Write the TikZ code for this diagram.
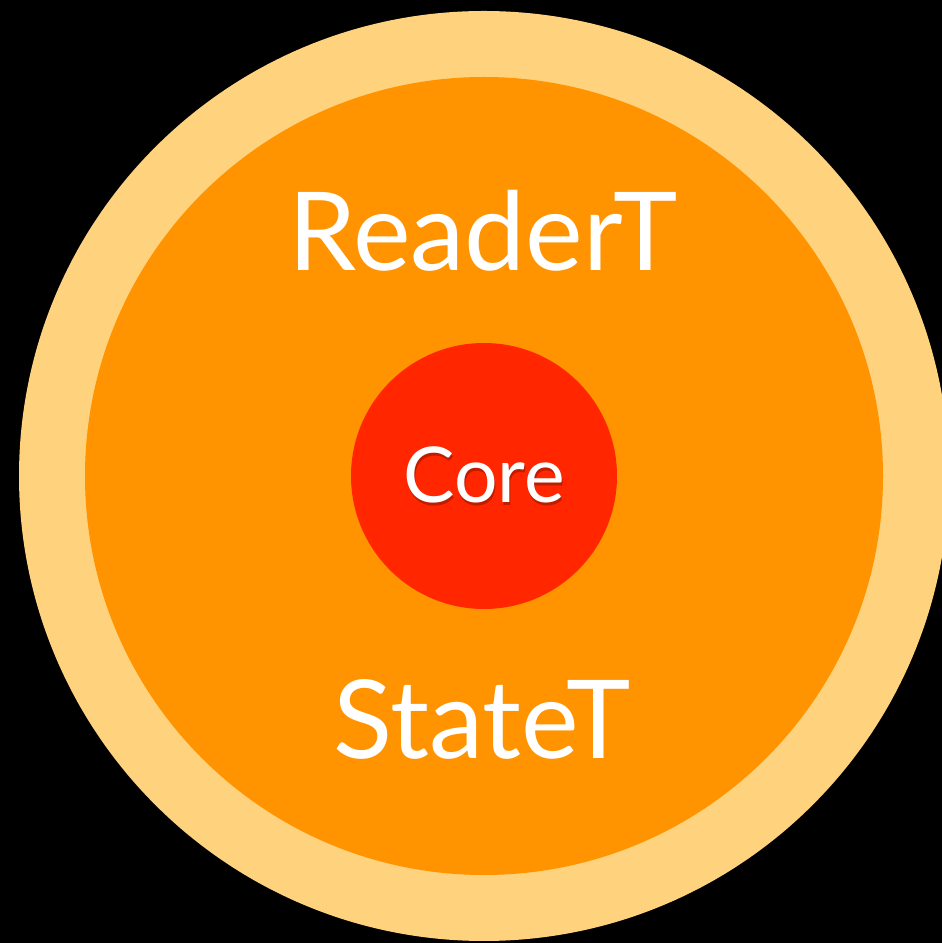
\documentclass[tikz,border=0pt]{standalone}
\usepackage{fontspec}
\setmainfont{Lato}
\definecolor{ringpale}{HTML}{FFD37E}
\definecolor{ringorange}{HTML}{FF9300}
\definecolor{corered}{HTML}{FF2600}
\begin{document}
\begin{tikzpicture}[x=1pt,y=1pt,
  disc/.style={circle, inner sep=0pt, draw=none},
  layertext/.style={text=white, font=\fontsize{109}{109}\selectfont, anchor=base, inner sep=0pt},
  coretext/.style={text=white, font=\fontsize{77}{77}\selectfont, anchor=base, inner sep=0pt}]
  % page and backdrop
  \useasboundingbox (0,0) rectangle (942,943);
  \clip (0,0) rectangle (942,943);
  \fill[black] (0,0) rectangle (942,943);
  % nested layers
  \node[disc, fill=ringpale, minimum size=930pt] (outer) at (484,467) {};
  \node[disc, fill=ringorange, minimum size=798pt] (middle) at (484,467) {};
  \node[disc, fill=corered, minimum size=266pt] (core) at (484,467) {};
  % labels
  \node[layertext] (reader) at (483,672) {ReaderT};
  \node[layertext] (state) at (482,184) {StateT};
  % soft drop shadow under the core label
  \node[coretext, text=black, opacity=0.25] (coreshadow) at (485,437.5) {Core};
  \node[coretext] (corelabel) at (484,440) {Core};
\end{tikzpicture}
\end{document}
